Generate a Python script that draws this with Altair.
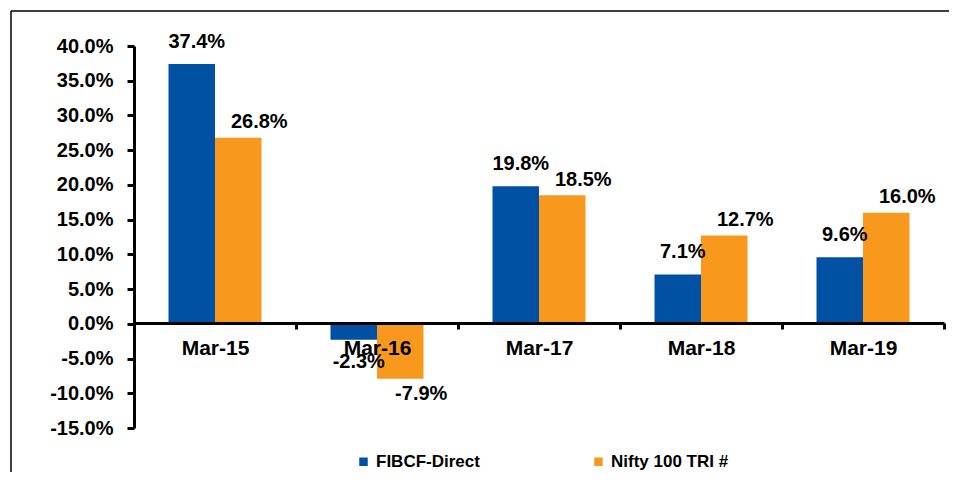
import altair as alt
import pandas as pd

categories = ["Mar-15", "Mar-16", "Mar-17", "Mar-18", "Mar-19"]
series = ["FIBCF-Direct", "Nifty 100 TRI #"]
fibcf_direct = [37.4, -2.3, 19.8, 7.1, 9.6]
nifty_100_tri = [26.8, -7.9, 18.5, 12.7, 16.0]
y_ticks = [-15, -10, -5, 0, 5, 10, 15, 20, 25, 30, 35, 40]
colors = ["#0050A4", "#F8991D"]
title_text = "Absolute Returns for last 5 financial years:"

rows = []
for c, a, b in zip(categories, fibcf_direct, nifty_100_tri):
    rows.append({"cat": c, "s": series[0], "v": a})
    rows.append({"cat": c, "s": series[1], "v": b})
df = pd.DataFrame(rows)

FONT = "Liberation Sans"
FMT = "replace(format({}, '.1f'), '\u2212', '-') + '%'"

x_enc = alt.X(
    "cat:N",
    sort=categories,
    scale=alt.Scale(paddingInner=0, paddingOuter=0),
    axis=alt.Axis(
        title=None, labelAngle=0, offset=-105, tickBand="extent",
        domainColor="black", domainWidth=3, tickColor="black", tickWidth=3,
        tickSize=6, labelFont=FONT, labelFontSize=21, labelFontWeight="bold",
        labelColor="black", labelPadding=8, zindex=1, grid=False,
    ),
)
xoff_enc = alt.XOffset("s:N", sort=series, scale=alt.Scale(paddingOuter=0.742, paddingInner=0))
y_scale = alt.Scale(domain=[-15, 40], nice=False, zero=False)

base = alt.Chart(df)

bars = base.mark_bar().encode(
    x=x_enc,
    xOffset=xoff_enc,
    y=alt.Y(
        "v:Q", scale=y_scale,
        axis=alt.Axis(
            title=None, values=y_ticks, tickCount=len(y_ticks) + 2,
            labelExpr=FMT.format("datum.value"),
            labelOverlap=False,
            domainColor="black", domainWidth=3, tickColor="black", tickWidth=3,
            tickSize=7, labelFont=FONT, labelFontSize=20, labelFontWeight="bold",
            labelColor="black", labelPadding=14, grid=False,
        ),
    ),
    y2=alt.datum(0),
    color=alt.Color(
        "s:N", sort=series, scale=alt.Scale(domain=series, range=colors),
        legend=alt.Legend(
            title=None, orient="none", direction="horizontal", legendX=221, legendY=407,
            symbolType="square", symbolSize=72, symbolStrokeWidth=0,
            labelFont=FONT, labelFontSize=17, labelFontWeight="bold", labelColor="black",
            labelOffset=4, columnPadding=110, padding=0,
        ),
    ),
)

def labels(name, dx, k):
    return base.transform_filter(alt.datum.s == name).transform_calculate(
        ly=f"datum.v + (datum.v >= 0 ? 1 : -1) * {k}",
        lt=FMT.format("datum.v"),
    ).mark_text(
        font=FONT, fontSize=20, fontWeight="bold", color="black",
        baseline="middle", align="center", dx=dx,
    ).encode(
        x=alt.X("cat:N", sort=categories),
        xOffset=alt.XOffset("s:N", sort=series),
        y=alt.Y("ly:Q", scale=y_scale),
        text="lt:N",
    )

lab_a = labels(series[0], 5, 3.2)
lab_b = labels(series[1], 21, 2.2)

frame_top = alt.Chart(pd.DataFrame({"a": [0]})).mark_rule(color="black", strokeWidth=1.5).encode(
    x=alt.value(-123), x2=alt.value(900), y=alt.value(-35)
)
frame_left = alt.Chart(pd.DataFrame({"a": [0]})).mark_rule(color="black", strokeWidth=1.5).encode(
    x=alt.value(-123), y=alt.value(-35), y2=alt.value(500)
)
title_mark = alt.Chart(pd.DataFrame({"t": [title_text]})).mark_text(
    font=FONT, fontSize=18, fontWeight="bold", color="black", align="left", baseline="bottom"
).encode(x=alt.value(-124), y=alt.value(-40), text="t:N")

chart = alt.layer(frame_top, frame_left, title_mark, bars, lab_a, lab_b).resolve_scale(
    x="shared"
).properties(
    width=810, height=382,
    autosize=alt.AutoSizeParams(type="none"),
    padding={"left": 126, "top": 38, "right": 5, "bottom": 44},
).configure_view(stroke=None)

chart.save("out.html", embed_options={"renderer": "svg", "actions": False})
